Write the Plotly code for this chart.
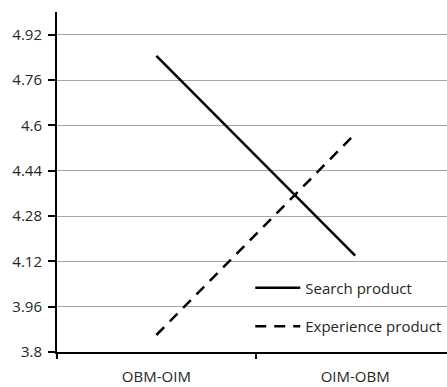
import plotly.graph_objects as go

categories = ["OBM-OIM", "OIM-OBM"]
search_product = [4.845, 4.14]
experience_product = [3.86, 4.57]
y_ticks = [3.8, 3.96, 4.12, 4.28, 4.44, 4.6, 4.76, 4.92]

FONT = "Open Sans"
TXT = "#262626"

fig = go.Figure()
fig.add_trace(go.Scatter(
    x=categories, y=search_product, mode="lines", name="Search product",
    line=dict(color="black", width=2.5), legendgroup="a"))
fig.add_trace(go.Scatter(
    x=categories, y=experience_product, mode="lines", name="Experience product",
    line=dict(color="black", width=2.5, dash="11px,8px"), legendgroup="b"))

W, H = 447, 387
ml, mr, mt, mb = 56.5, 0, 12, 34.5
pw = W - ml - mr
ph = H - mt - mb

def px_to_paper_x(px):
    return (px - ml) / pw

def py_to_paper_y(py):
    return (H - mb - py) / ph

fig.update_layout(
    width=W, height=H,
    margin=dict(l=ml, r=mr, t=mt, b=mb, pad=0, autoexpand=False),
    paper_bgcolor="white", plot_bgcolor="white",
    font=dict(family=FONT, size=15, color=TXT),
    showlegend=True,
    hovermode=False,
    legend=dict(
        x=px_to_paper_x(250), y=py_to_paper_y(272), xanchor="left", yanchor="top",
        bgcolor="rgba(0,0,0,0)", font=dict(family=FONT, size=15, color=TXT),
        tracegroupgap=16, itemwidth=45, traceorder="grouped"),
    xaxis=dict(
        type="category", range=[-0.5, 1.462], automargin=False,
        showline=True, linecolor="black", linewidth=2,
        ticks="outside", tickson="boundaries", ticklen=5, tickwidth=2, tickcolor="black",
        ticklabelstandoff=10,
        showgrid=False, zeroline=False,
        tickfont=dict(family=FONT, size=15, color=TXT),
    ),
    yaxis=dict(
        range=[3.8, 5.0], tickvals=y_ticks, ticktext=[str(v) for v in y_ticks],
        automargin=False,
        showline=True, linecolor="black", linewidth=2,
        ticks="outside", ticklen=7, tickwidth=2, tickcolor="black",
        ticklabelstandoff=3,
        showgrid=True, gridcolor="#a6a6a6", gridwidth=1, zeroline=False,
        tickfont=dict(family=FONT, size=15, color=TXT),
    ),
)

fig.write_html(
    "out.html",
    config={"displayModeBar": False},
    post_script=(
        "document.body.style.margin='0';document.body.style.overflow='hidden';"
    ),
)
